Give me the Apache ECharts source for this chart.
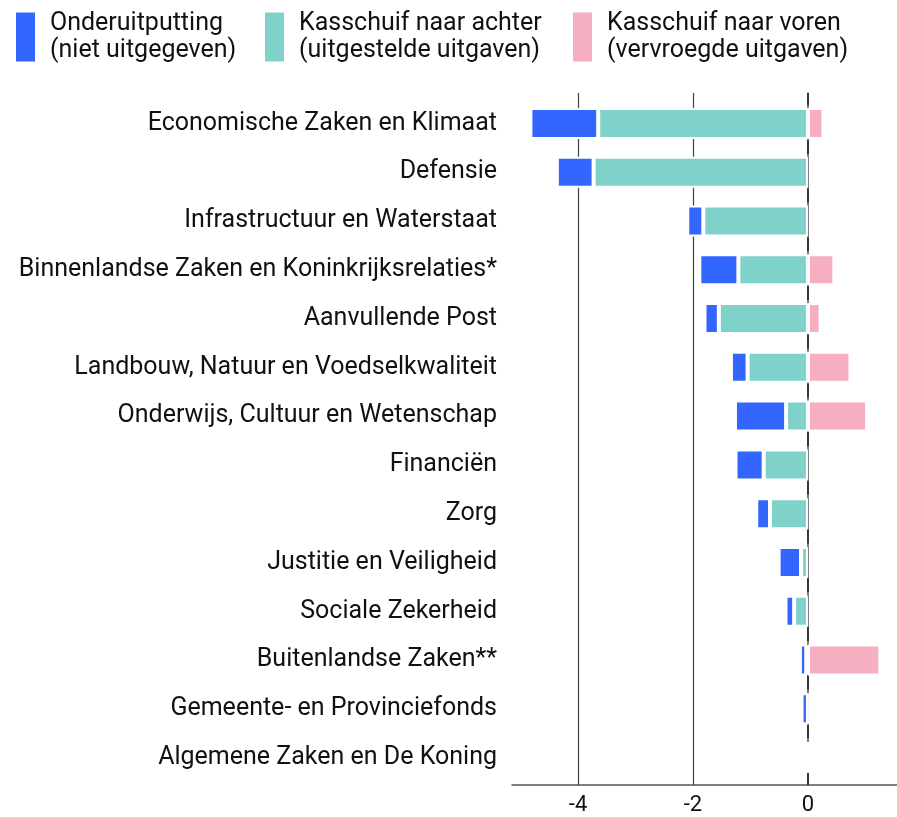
<!DOCTYPE html>
<html>
<head>
<meta charset="utf-8">
<script src="https://cdn.jsdelivr.net/npm/echarts@6/dist/echarts.min.js"></script>
<style>
html, body { margin: 0; padding: 0; background: #fff; }
#chart { width: 897px; height: 817px; }
</style>
</head>
<body>
<div id="chart"></div>
<script>
// ministeries, van boven naar beneden
const categories = [
  'Economische Zaken en Klimaat',
  'Defensie',
  'Infrastructuur en Waterstaat',
  'Binnenlandse Zaken en Koninkrijksrelaties*',
  'Aanvullende Post',
  'Landbouw, Natuur en Voedselkwaliteit',
  'Onderwijs, Cultuur en Wetenschap',
  'Financiën',
  'Zorg',
  'Justitie en Veiligheid',
  'Sociale Zekerheid',
  'Buitenlandse Zaken**',
  'Gemeente- en Provinciefonds',
  'Algemene Zaken en De Koning'
]
const onderuitputting = [-1.18, -0.64, -0.28, -0.68, -0.25, -0.29, -0.89, -0.49, -0.24, -0.39, -0.15, -0.11, -0.11, 0]
const kasschuifAchter = [-3.65, -3.73, -1.82, -1.21, -1.55, -1.05, -0.38, -0.77, -0.66, -0.12, -0.24, -0.03, 0, 0]
const kasschuifVoren = [0.27, 0, 0, 0.46, 0.22, 0.74, 1.03, 0, 0, 0, 0, 1.26, 0, 0]
const tickValues = [-4, -2, 0]
const gridLines = [-4, -2]

const names = [
  'Onderuitputting\n(niet uitgegeven)',
  'Kasschuif naar achter\n(uitgestelde uitgaven)',
  'Kasschuif naar voren\n(vervroegde uitgaven)'
]
const colors = ['#3366FF', '#7FD2C9', '#F5AFC1']

const xMin = -5.15
const xMax = 1.55
const font = 'Roboto, "Noto Sans", sans-serif'

function legendAt(name, left) {
  return {
    data: [name],
    left: left,
    top: 10,
    padding: 0,
    icon: 'rect',
    itemWidth: 19,
    itemHeight: 49,
    selectedMode: false,
    itemStyle: { borderWidth: 0 },
    textStyle: {
      fontFamily: font,
      fontSize: 25,
      lineHeight: 27,
      color: '#111',
      padding: [0, 0, 0, 10]
    }
  }
}

function barSeries(name, color, data) {
  return {
    name: name,
    type: 'bar',
    stack: 'totaal',
    xAxisIndex: 0,
    yAxisIndex: 0,
    barWidth: 31,
    z: 3,
    itemStyle: { color: color, borderColor: '#fff', borderWidth: 2 },
    data: data
  }
}

const chart = echarts.init(document.getElementById('chart'))

const option = {
  animation: false,
  legend: [
    legendAt(names[0], 16),
    legendAt(names[1], 265),
    legendAt(names[2], 573)
  ],
  grid: [
    { left: 512, right: 0, top: 99, bottom: 35 },
    { left: 512, right: 0, top: 93, bottom: 32 }
  ],
  xAxis: [
    { gridIndex: 0, type: 'value', min: xMin, max: xMax, show: false },
    {
      gridIndex: 1,
      type: 'value',
      min: xMin,
      max: xMax,
      axisLine: { show: true, lineStyle: { color: '#555', width: 1.5 } },
      axisTick: { show: false },
      splitLine: { show: false },
      axisLabel: {
        customValues: tickValues,
        fontFamily: font,
        fontSize: 22,
        color: '#111',
        margin: 9
      }
    }
  ],
  yAxis: [
    {
      gridIndex: 0,
      type: 'category',
      inverse: true,
      data: categories,
      axisLine: { show: false },
      axisTick: { show: false },
      axisLabel: {
        fontFamily: font,
        fontSize: 25,
        color: '#111',
        margin: 15
      }
    },
    {
      gridIndex: 1,
      type: 'value',
      min: 0,
      max: 1,
      axisLine: { show: true, lineStyle: { color: '#555', width: 1.5 } },
      axisTick: { show: false },
      axisLabel: { show: false },
      splitLine: { show: false }
    }
  ],
  series: [
    barSeries(names[1], colors[1], kasschuifAchter),
    barSeries(names[0], colors[0], onderuitputting),
    barSeries(names[2], colors[2], kasschuifVoren),
    {
      // alleen voor de verticale hulplijnen
      type: 'line',
      xAxisIndex: 1,
      yAxisIndex: 1,
      data: [],
      z: 1,
      markLine: {
        silent: true,
        symbol: 'none',
        z: 1,
        label: { show: false },
        data: gridLines.map(v => ({ xAxis: v, lineStyle: { color: '#444', width: 1.2, type: 'solid' } }))
          .concat([{ xAxis: 0, lineStyle: { color: '#222', width: 1.5, type: [14, 34.7], dashOffset: 2 } }])
      }
    }
  ]
}

chart.setOption(option)
</script>
</body>
</html>
